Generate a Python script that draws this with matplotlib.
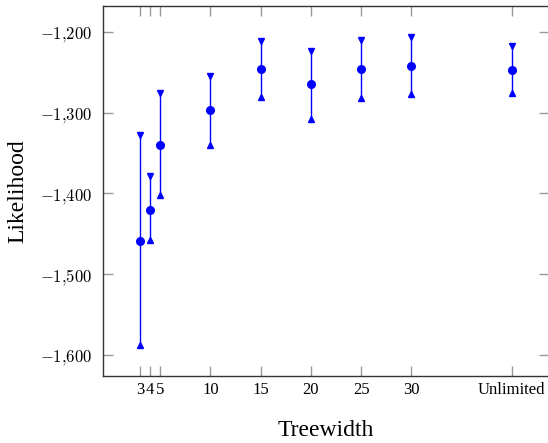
import numpy as np
import matplotlib
matplotlib.use("Agg")
import matplotlib.pyplot as plt
from matplotlib.ticker import FuncFormatter

plt.rcParams['font.family'] = ['Liberation Serif', 'DejaVu Serif']
plt.rcParams['mathtext.fontset'] = 'cm'

# treewidth positions (Unlimited is drawn at 40)
tw_pos = [3, 4, 5, 10, 15, 20, 25, 30, 40]
tw_labels = ["3", "4", "5", "10", "15", "20", "25", "30", "Unlimited"]
lik_mean = [-1459, -1420, -1340, -1297, -1246, -1265, -1246, -1242, -1247]
lik_upper = [-1328, -1379, -1276, -1255, -1211, -1223, -1210, -1206, -1217]
lik_lower = [-1588, -1458, -1402, -1340, -1281, -1308, -1282, -1277, -1276]
y_ticks = [-1600, -1500, -1400, -1300, -1200]

blue = (0, 0, 1)

fig = plt.figure(figsize=(5.48, 4.43), dpi=100)
# right border falls just outside the picture, like the reference
ax = fig.add_axes([103 / 548, 1 - 376 / 443, 446 / 548, 370 / 443])

ax.vlines(tw_pos, lik_lower, lik_upper, color=blue, lw=1.0)
ax.plot(tw_pos, lik_upper, 'v', color=blue, ms=5, ls='none')
ax.plot(tw_pos, lik_lower, '^', color=blue, ms=5, ls='none')
ax.plot(tw_pos, lik_mean, 'o', color=blue, ms=5.5, ls='none')

# pgfplots style enlarge limits by 10%
xr = max(tw_pos) - min(tw_pos)
ax.set_xlim(min(tw_pos) - 0.1 * xr, max(tw_pos) + 0.1 * xr)
yr = max(lik_upper) - min(lik_lower)
ax.set_ylim(min(lik_lower) - 0.1 * yr, max(lik_upper) + 0.1 * yr)

ax.set_xticks(tw_pos)
ax.set_xticklabels(tw_labels)
ax.set_yticks(y_ticks)
ax.yaxis.set_major_formatter(FuncFormatter(
    lambda v, p: r"$-1{,}%03d$" % (abs(int(v)) - 1000)))

ax.tick_params(direction='in', length=7, width=1, color='#999999',
               top=True, right=True, labelsize=12)
ax.tick_params(axis='x', pad=4)
ax.tick_params(axis='y', pad=8)
for s in ax.spines.values():
    s.set_color('#333333')
    s.set_linewidth(1.0)

ax.set_xlabel("Treewidth", fontsize=17)
ax.xaxis.set_label_coords(0.5, -0.12)
ax.set_ylabel("Likelihood", fontsize=17)
ax.yaxis.set_label_coords(-0.168, 0.5)

fig.savefig("out.png", dpi=100)
